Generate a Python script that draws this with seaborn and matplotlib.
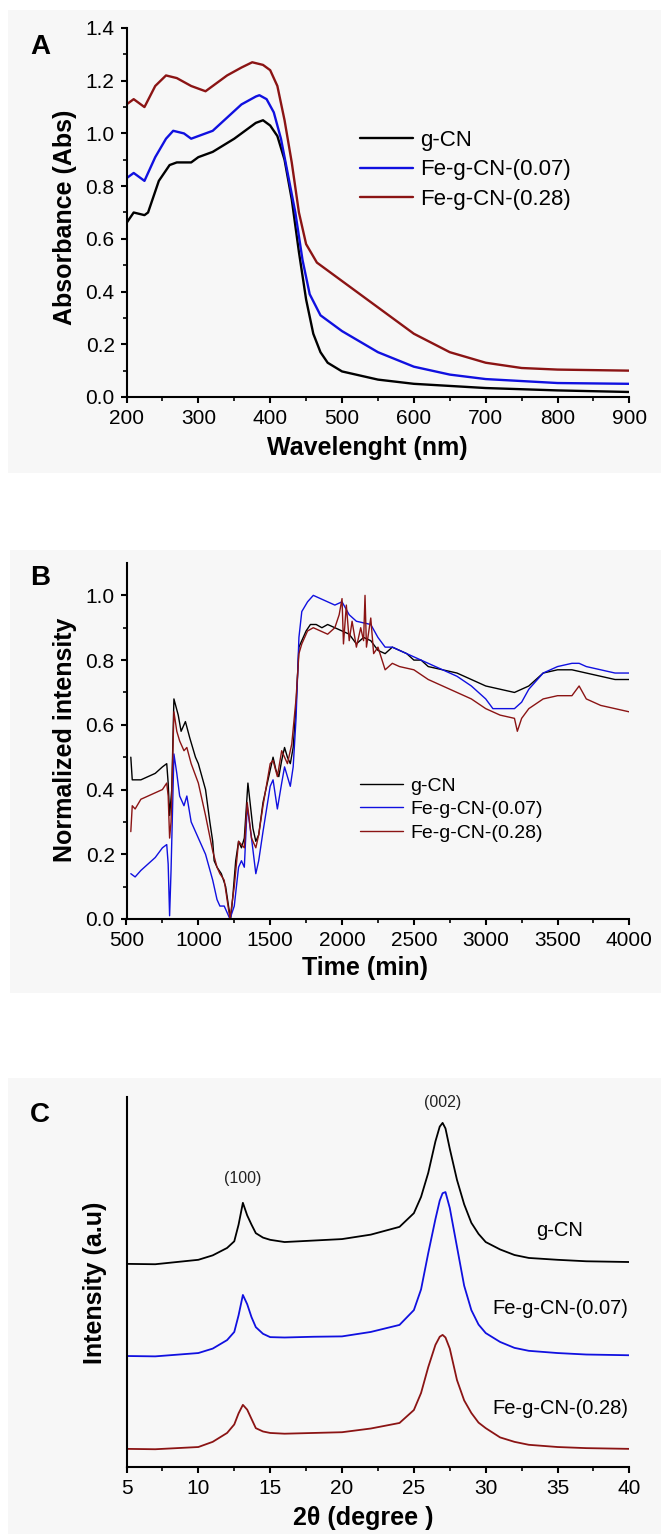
import numpy as np
import pandas as pd
import matplotlib
matplotlib.use("Agg")
import matplotlib.pyplot as plt
from matplotlib.patches import Rectangle
from matplotlib.ticker import MultipleLocator, FixedLocator, FormatStrFormatter
import seaborn as sns

# -----------------------------
# Data
# -----------------------------
samples = ["g-CN", "Fe-g-CN-(0.07)", "Fe-g-CN-(0.28)"]
colors = {"g-CN": "#000000", "Fe-g-CN-(0.07)": "#1010e0", "Fe-g-CN-(0.28)": "#8b1414"}

# Panel A: UV-vis absorbance
wl_gcn = [200, 210, 225, 230, 245, 260, 270, 290, 300, 320, 350, 380, 390, 400, 410, 420, 430,
          440, 445, 450, 460, 470, 480, 500, 550, 600, 700, 800, 900]
abs_gcn = [0.66, 0.70, 0.69, 0.70, 0.82, 0.88, 0.89, 0.89, 0.91, 0.93, 0.98, 1.04, 1.05, 1.03, 0.99,
           0.90, 0.75, 0.55, 0.46, 0.37, 0.24, 0.17, 0.13, 0.097, 0.066, 0.05, 0.034, 0.025, 0.019]
wl_fe07 = [200, 210, 225, 240, 255, 265, 280, 290, 310, 320, 340, 360, 380, 385, 395, 405, 415,
           425, 435, 445, 455, 470, 500, 550, 600, 650, 700, 800, 900]
abs_fe07 = [0.83, 0.85, 0.82, 0.91, 0.98, 1.01, 1.00, 0.98, 1.00, 1.01, 1.06, 1.11, 1.14, 1.145, 1.13,
            1.08, 0.98, 0.84, 0.70, 0.52, 0.39, 0.31, 0.25, 0.17, 0.115, 0.085, 0.068, 0.053, 0.05]
wl_fe28 = [200, 210, 225, 240, 255, 270, 290, 310, 320, 340, 360, 375, 390, 400, 410, 420, 430,
           440, 450, 465, 480, 500, 550, 600, 650, 700, 750, 800, 900]
abs_fe28 = [1.11, 1.13, 1.10, 1.18, 1.22, 1.21, 1.18, 1.16, 1.18, 1.22, 1.25, 1.27, 1.26, 1.24, 1.18,
            1.05, 0.89, 0.70, 0.58, 0.51, 0.48, 0.44, 0.34, 0.24, 0.17, 0.13, 0.11, 0.104, 0.10]

# Panel B: normalized intensity vs time
t_gcn = [530, 540, 560, 600, 650, 700, 750, 780, 790, 800, 815, 830, 860, 880, 910, 940, 980, 1000,
         1050, 1080, 1100, 1110, 1130, 1160, 1190, 1210, 1225, 1240, 1260, 1280, 1300, 1320, 1345,
         1360, 1380, 1400, 1420, 1450, 1480, 1500, 1520, 1540, 1560, 1580, 1600, 1620, 1640, 1660,
         1680, 1700, 1720, 1750, 1780, 1820, 1860, 1900, 1950, 2000, 2050, 2100, 2150, 2200, 2250,
         2300, 2350, 2400, 2450, 2500, 2550, 2600, 2700, 2800, 2900, 3000, 3100, 3200, 3250, 3300,
         3350, 3400, 3500, 3600, 3700, 3800, 3900, 4000]
int_gcn = [0.50, 0.43, 0.43, 0.43, 0.44, 0.45, 0.47, 0.48, 0.42, 0.32, 0.40, 0.68, 0.63, 0.58, 0.61,
           0.56, 0.50, 0.48, 0.40, 0.30, 0.24, 0.18, 0.16, 0.14, 0.10, 0.04, 0.0, 0.07, 0.18, 0.24,
           0.22, 0.25, 0.42, 0.36, 0.28, 0.24, 0.26, 0.36, 0.42, 0.46, 0.50, 0.46, 0.44, 0.49, 0.53,
           0.50, 0.48, 0.53, 0.66, 0.84, 0.86, 0.89, 0.91, 0.91, 0.90, 0.91, 0.90, 0.89, 0.88, 0.85,
           0.87, 0.86, 0.83, 0.82, 0.84, 0.83, 0.82, 0.80, 0.80, 0.78, 0.77, 0.76, 0.74, 0.72, 0.71,
           0.70, 0.71, 0.72, 0.74, 0.76, 0.77, 0.77, 0.76, 0.75, 0.74, 0.74]
t_fe07 = [530, 560, 600, 650, 700, 750, 780, 790, 800, 810, 830, 850, 870, 900, 920, 950, 1000,
          1050, 1100, 1130, 1150, 1180, 1200, 1220, 1250, 1280, 1300, 1320, 1340, 1370, 1400, 1420,
          1450, 1500, 1520, 1550, 1580, 1600, 1640, 1660, 1680, 1700, 1720, 1760, 1800, 1850, 1900,
          1950, 2000, 2050, 2100, 2200, 2250, 2300, 2350, 2400, 2500, 2600, 2700, 2800, 2900, 3000,
          3050, 3100, 3200, 3250, 3300, 3400, 3500, 3600, 3650, 3700, 3800, 3900, 4000]
int_fe07 = [0.14, 0.13, 0.15, 0.17, 0.19, 0.22, 0.23, 0.17, 0.01, 0.15, 0.51, 0.45, 0.38, 0.35, 0.38,
            0.30, 0.25, 0.20, 0.12, 0.06, 0.04, 0.04, 0.02, 0.0, 0.04, 0.16, 0.18, 0.16, 0.35, 0.25,
            0.14, 0.18, 0.27, 0.41, 0.43, 0.34, 0.42, 0.47, 0.41, 0.47, 0.62, 0.87, 0.95, 0.98, 1.0,
            0.99, 0.98, 0.97, 0.98, 0.94, 0.92, 0.91, 0.87, 0.84, 0.84, 0.83, 0.81, 0.79, 0.77, 0.75,
            0.72, 0.68, 0.65, 0.65, 0.65, 0.67, 0.71, 0.76, 0.78, 0.79, 0.79, 0.78, 0.77, 0.76, 0.76]
t_fe28 = [530, 540, 560, 600, 650, 700, 750, 780, 790, 800, 810, 830, 850, 870, 900, 920, 950, 1000,
          1050, 1100, 1130, 1150, 1180, 1200, 1220, 1250, 1280, 1320, 1340, 1370, 1400, 1420, 1450,
          1500, 1520, 1550, 1580, 1620, 1650, 1680, 1700, 1720, 1760, 1800, 1850, 1900, 1950, 1980,
          2000, 2010, 2030, 2050, 2070, 2100, 2130, 2150, 2160, 2170, 2200, 2220, 2250, 2300, 2350,
          2400, 2500, 2600, 2700, 2800, 2900, 3000, 3100, 3200, 3220, 3250, 3300, 3400, 3500, 3600,
          3650, 3700, 3800, 3900, 4000]
int_fe28 = [0.27, 0.35, 0.34, 0.37, 0.38, 0.39, 0.40, 0.42, 0.38, 0.25, 0.30, 0.64, 0.58, 0.55, 0.52,
            0.53, 0.48, 0.42, 0.32, 0.21, 0.16, 0.14, 0.12, 0.06, 0.0, 0.10, 0.24, 0.22, 0.36, 0.25,
            0.22, 0.26, 0.35, 0.48, 0.49, 0.44, 0.52, 0.48, 0.54, 0.68, 0.82, 0.85, 0.89, 0.90, 0.89,
            0.88, 0.90, 0.94, 0.99, 0.85, 0.97, 0.86, 0.92, 0.84, 0.90, 0.86, 1.0, 0.84, 0.93, 0.82,
            0.84, 0.77, 0.79, 0.78, 0.77, 0.74, 0.72, 0.70, 0.68, 0.65, 0.63, 0.62, 0.58, 0.62, 0.65,
            0.68, 0.69, 0.69, 0.72, 0.68, 0.66, 0.65, 0.64]

# Panel C: XRD patterns (arbitrary units, stacked)
theta = [5, 7, 10, 11, 12, 12.5, 12.8, 13.1, 13.4, 13.7, 14, 14.5, 15, 16, 18, 20, 22, 24, 25,
         25.5, 26, 26.5, 26.8, 27.0, 27.2, 27.5, 28, 28.5, 29, 29.5, 30, 31, 32, 33, 35, 37, 40]
xrd_gcn = [54.9, 54.8, 56.0, 57.2, 59.2, 61.0, 65.5, 71.4, 68.0, 65.5, 63.2, 62.0, 61.4, 60.8,
           61.2, 61.6, 62.8, 64.9, 68.6, 73.0, 79.5, 88.0, 92.0, 93.0, 91.5, 86.0, 77.6, 71.0,
           66.0, 63.0, 60.8, 58.8, 57.3, 56.5, 56.0, 55.6, 55.4]
xrd_fe07 = [30.0, 29.9, 30.8, 32.0, 34.3, 36.5, 41.0, 46.5, 44.0, 40.5, 37.8, 36.0, 35.1, 35.0,
            35.2, 35.3, 36.5, 38.4, 42.4, 48.0, 57.8, 67.0, 72.0, 74.0, 74.3, 70.0, 59.5, 49.0,
            42.4, 38.5, 36.2, 33.8, 32.2, 31.4, 30.8, 30.4, 30.2]
xrd_fe28 = [4.9, 4.8, 5.4, 6.8, 9.2, 11.5, 14.5, 16.8, 15.5, 13.0, 10.5, 9.6, 9.2, 9.0, 9.2,
            9.4, 10.4, 11.9, 15.4, 20.0, 27.0, 33.0, 35.2, 35.7, 35.0, 32.0, 23.5, 18.0, 14.6,
            12.0, 10.5, 8.0, 6.8, 6.0, 5.4, 5.1, 4.9]

# -----------------------------
# Figure layout (pixel based)
# -----------------------------
W, H = 661, 1534
sns.set_style("ticks")
plt.rcParams["font.family"] = ["Liberation Sans", "DejaVu Sans"]
plt.rcParams["axes.linewidth"] = 1.5
plt.rcParams["axes.edgecolor"] = "black"
plt.rcParams["text.color"] = "black"
plt.rcParams["axes.labelcolor"] = "black"
plt.rcParams["xtick.color"] = "black"
plt.rcParams["ytick.color"] = "black"

fig = plt.figure(figsize=(W / 100, H / 100), dpi=100)


def px_axes(left, top, right, bottom):
    return fig.add_axes([left / W, 1 - bottom / H, (right - left) / W, (bottom - top) / H])


def panel_box(x0, y0, x1, y1):
    fig.patches.append(Rectangle((x0 / W, 1 - y1 / H), (x1 - x0) / W, (y1 - y0) / H,
                                 transform=fig.transFigure, facecolor="#f7f7f7",
                                 edgecolor="none", zorder=-10))


def style_axes(ax):
    ax.set_facecolor("none")
    sns.despine(ax=ax)
    ax.tick_params(which="major", direction="out", length=4.5, width=1.5, labelsize=15, pad=4)
    ax.tick_params(which="minor", direction="out", length=3, width=1.2)
    ax.set_xlabel("")
    ax.set_ylabel("")


panel_box(8, 10, 661, 473)
panel_box(10, 550, 661, 993)
panel_box(8, 1078, 661, 1534)

# -----------------------------
# Panel A
# -----------------------------
axA = px_axes(126.5, 28, 629.4, 397)
for name, x, y in zip(samples, [wl_gcn, wl_fe07, wl_fe28], [abs_gcn, abs_fe07, abs_fe28]):
    sns.lineplot(x=x, y=y, ax=axA, color=colors[name], lw=1.7, label=name,
                 estimator=None, sort=False)
axA.set_xlim(200, 900)
axA.set_ylim(0, 1.4)
axA.xaxis.set_major_locator(MultipleLocator(100))
axA.xaxis.set_minor_locator(MultipleLocator(50))
axA.yaxis.set_major_locator(MultipleLocator(0.2))
axA.yaxis.set_minor_locator(MultipleLocator(0.1))
axA.yaxis.set_major_formatter(FormatStrFormatter("%.1f"))
style_axes(axA)
axA.legend(loc="upper left", bbox_to_anchor=(360 / W, 1 - 130 / H), bbox_transform=fig.transFigure,
           frameon=False, fontsize=16, handlelength=2.4, handletextpad=0.3,
           labelspacing=0.38, borderpad=0, borderaxespad=0)
fig.text(40 / W, 1 - 47 / H, "A", fontsize=20, fontweight="bold", ha="center", va="center")
fig.text(65 / W, 1 - 217 / H, "Absorbance (Abs)", fontsize=18, fontweight="bold",
         rotation=90, ha="center", va="center")
fig.text(367 / W, 1 - 448 / H, "Wavelenght (nm)", fontsize=18, fontweight="bold",
         ha="center", va="center")

# -----------------------------
# Panel B
# -----------------------------
axB = px_axes(126.5, 563, 629.4, 919)
for name, x, y in zip(samples, [t_gcn, t_fe07, t_fe28], [int_gcn, int_fe07, int_fe28]):
    sns.lineplot(x=x, y=y, ax=axB, color=colors[name], lw=1.0, label=name,
                 estimator=None, sort=False)
axB.set_xlim(500, 4000)
axB.set_ylim(0, 1.1)
axB.xaxis.set_major_locator(MultipleLocator(500))
axB.xaxis.set_minor_locator(MultipleLocator(250))
axB.yaxis.set_major_locator(FixedLocator([0, 0.2, 0.4, 0.6, 0.8, 1.0]))
axB.yaxis.set_minor_locator(FixedLocator([0.1, 0.3, 0.5, 0.7, 0.9]))
axB.yaxis.set_major_formatter(FormatStrFormatter("%.1f"))
style_axes(axB)
axB.legend(loc="upper left", bbox_to_anchor=(360 / W, 1 - 777 / H), bbox_transform=fig.transFigure,
           frameon=False, fontsize=14, handlelength=2.2, handletextpad=0.4,
           labelspacing=0.3, borderpad=0, borderaxespad=0)
fig.text(40 / W, 1 - 578 / H, "B", fontsize=20, fontweight="bold", ha="center", va="center")
fig.text(65 / W, 1 - 740 / H, "Normalized intensity", fontsize=18, fontweight="bold",
         rotation=90, ha="center", va="center")
fig.text(365 / W, 1 - 968 / H, "Time (min)", fontsize=18, fontweight="bold",
         ha="center", va="center")

# -----------------------------
# Panel C
# -----------------------------
axC = px_axes(126.5, 1097, 629.4, 1467)
for name, y in zip(samples, [xrd_gcn, xrd_fe07, xrd_fe28]):
    sns.lineplot(x=theta, y=y, ax=axC, color=colors[name], lw=1.3,
                 estimator=None, sort=False)
axC.set_xlim(5, 40)
axC.set_ylim(0, 100)
axC.xaxis.set_major_locator(MultipleLocator(5))
axC.xaxis.set_minor_locator(MultipleLocator(2.5))
style_axes(axC)
axC.set_yticks([])
axC.annotate("(100)", (13.1, 71.4), xytext=(0, 12), textcoords="offset points",
             ha="center", va="bottom", fontsize=11.5, color="#222222")
axC.annotate("(002)", (27.0, 93.0), xytext=(0, 9), textcoords="offset points",
             ha="center", va="bottom", fontsize=11.5, color="#222222")
for name, ypx in zip(samples, [1231, 1309, 1408]):
    fig.text(560 / W, 1 - ypx / H, name, fontsize=14.5, ha="center", va="center")
fig.text(40 / W, 1 - 1115 / H, "C", fontsize=20, fontweight="bold", ha="center", va="center")
fig.text(95 / W, 1 - 1283 / H, "Intensity (a.u)", fontsize=18, fontweight="bold",
         rotation=90, ha="center", va="center")
fig.text(363 / W, 1 - 1518 / H, "2\u03b8 (degree )", fontsize=18, fontweight="bold",
         ha="center", va="center")

fig.savefig("out.png", dpi=100)
